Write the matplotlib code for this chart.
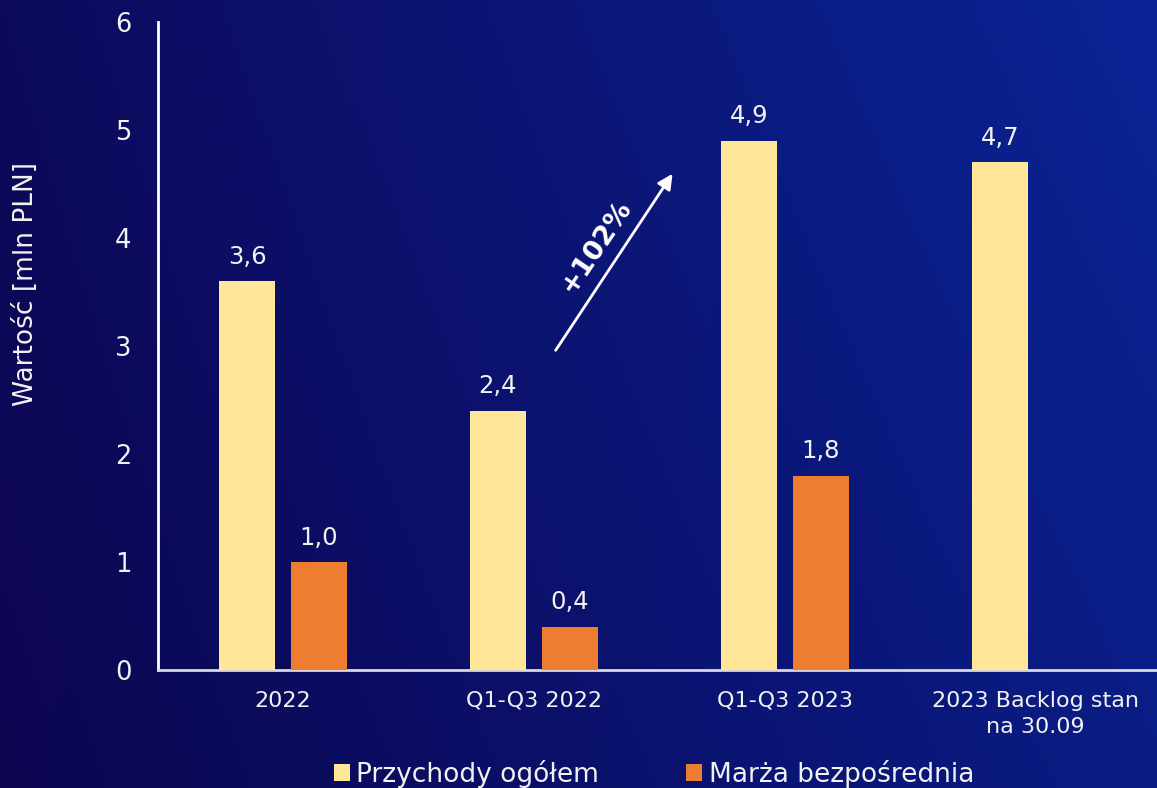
import numpy as np
import matplotlib
matplotlib.use("Agg")
import matplotlib.pyplot as plt
from matplotlib.patches import Patch

categories = ["2022", "Q1-Q3 2022", "Q1-Q3 2023", "2023 Backlog stan\nna 30.09"]
przychody = [3.6, 2.4, 4.9, 4.7]
marza = [1.0, 0.4, 1.8, None]
yticks = [0, 1, 2, 3, 4, 5, 6]
series_names = ["Przychody ogółem", "Marża bezpośrednia"]
ylabel = "Wartość [mln PLN]"
growth_label = "+102%"

YELLOW = "#FFE699"
ORANGE = "#ED7D31"
TXT = "#F2F2F2"

plt.rcParams['font.family'] = ['DejaVu Sans']

fig = plt.figure(figsize=(11.57, 7.88), dpi=100)

# background gradient
bg = fig.add_axes([0, 0, 1, 1], zorder=-10)
bg.set_axis_off()
tl = np.array([13, 10, 92]) / 255
tr = np.array([10, 36, 150]) / 255
bl = np.array([12, 5, 80]) / 255
br = np.array([10, 28, 132]) / 255
ny, nx = 100, 200
u = np.linspace(0, 1, nx)[None, :, None]
v = np.linspace(0, 1, ny)[:, None, None]
img = (1 - v) * ((1 - u) * tl + u * tr) + v * ((1 - u) * bl + u * br)
bg.imshow(img, aspect='auto', extent=[0, 1, 0, 1], interpolation='bicubic')
bg.set_xlim(0, 1)
bg.set_ylim(0, 1)

ax = fig.add_axes([158 / 1157, 118 / 788, 1 - 158 / 1157, 648 / 788])
ax.patch.set_alpha(0)

x = np.arange(len(categories))
w = 0.223
off = 0.143
yv = np.array(przychody, dtype=float)
mv = np.array([np.nan if m is None else m for m in marza], dtype=float)
b1 = ax.bar(x - off, yv, w, color=YELLOW, zorder=3)
mask = ~np.isnan(mv)
b2 = ax.bar(x[mask] + off, mv[mask], w, color=ORANGE, zorder=3)

def fmt(v):
    return f"{v:.1f}".replace(".", ",")

for xi, v in zip(x - off, yv):
    ax.annotate(fmt(v), (xi, v), xytext=(0, 9), textcoords='offset points',
                ha='center', va='bottom', color=TXT, fontsize=17.5)
for xi, v in zip(x[mask] + off, mv[mask]):
    ax.annotate(fmt(v), (xi, v), xytext=(0, 9), textcoords='offset points',
                ha='center', va='bottom', color=TXT, fontsize=17.5)

ax.set_xlim(-0.498, 3.484)
ax.set_ylim(0, 6)
ax.set_yticks(yticks)
ax.set_yticklabels([str(t) for t in yticks], color=TXT, fontsize=18.5)
ax.set_xticks(x)
ax.set_xticklabels(categories, color=TXT, fontsize=16, linespacing=1.4)
ax.tick_params(axis='y', length=0, pad=19)
ax.tick_params(axis='x', length=0, pad=15)
ax.set_ylabel(ylabel, color=TXT, fontsize=19)
ax.yaxis.set_label_coords(-0.119, 0.596)

for s in ['top', 'right']:
    ax.spines[s].set_visible(False)
ax.spines['left'].set_color('white')
ax.spines['left'].set_linewidth(2)
ax.spines['bottom'].set_color('#D9D9D9')
ax.spines['bottom'].set_linewidth(2)

# growth arrow
ax.annotate("", xy=(1.553, 4.595), xytext=(1.087, 2.96),
            arrowprops=dict(arrowstyle='-|>,head_length=0.9,head_width=0.45',
                            color='white', lw=2, shrinkA=0, shrinkB=0))
ax.text(1.25, 3.92, growth_label, rotation=56, rotation_mode='anchor',
        ha='center', va='center', color='white', fontsize=19.5, fontweight='bold')

handles = [Patch(facecolor=YELLOW), Patch(facecolor=ORANGE)]
fig.legend(handles, series_names, loc='center', bbox_to_anchor=(654 / 1157, 1 - 774 / 788),
           ncol=2, frameon=False, fontsize=19, labelcolor=TXT,
           handlelength=0.6, handleheight=0.6, handletextpad=0.25, columnspacing=3.3,
           borderpad=0)

fig.savefig("out.png", dpi=100)
